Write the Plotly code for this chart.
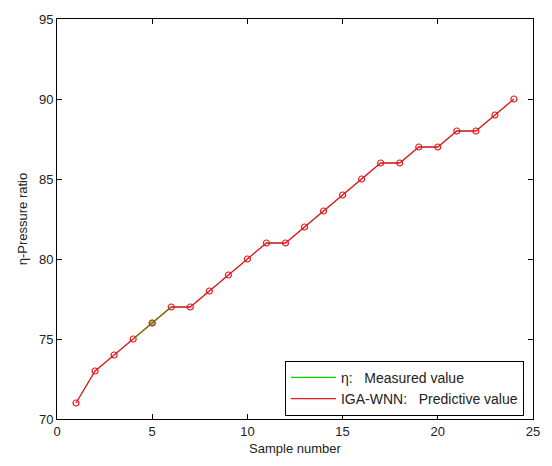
import plotly.graph_objects as go

samples = list(range(1, 25))
predictive = [71, 73, 74, 75, 76, 77, 77, 78, 79, 80, 81, 81, 82, 83, 84, 85, 86, 86, 87, 87, 88, 88, 89, 90]
measured = [71, 73, 74, 75, 76, 77, 77, 78, 79, 80, 81, 81, 82, 83, 84, 85, 86, 86, 87, 87, 88, 88, 89, 90]
x_ticks = [0, 5, 10, 15, 20, 25]
y_ticks = [70, 75, 80, 85, 90, 95]

FONT = "Liberation Sans, Arial, sans-serif"
GREEN = "rgb(0,210,0)"
RED = "rgb(230,25,35)"
fig = go.Figure()

# measured (green) drawn beneath the prediction
fig.add_trace(go.Scatter(
    x=samples, y=measured, mode="lines", showlegend=False,
    line=dict(color=GREEN, width=0.8),
))
fig.add_trace(go.Scatter(
    x=samples, y=predictive, mode="lines+markers", showlegend=False,
    line=dict(color=RED, width=1.3),
    marker=dict(symbol="circle-open", size=6, color=RED, line=dict(width=1.2)),
))
# measured visible around sample 5 (drawn over the prediction)
seg = slice(3, 6)
fig.add_trace(go.Scatter(
    x=samples[seg], y=measured[seg], mode="lines+markers", showlegend=False,
    line=dict(color="rgba(60,170,0,0.7)", width=1.2),
    marker=dict(symbol="circle", size=[0, 6, 0], color="rgba(90,160,20,0.9)",
                line=dict(width=1, color="rgb(200,40,30)")),
))
# legend entries (lines only, as in the reference)
fig.add_trace(go.Scatter(x=[None], y=[None], mode="lines", name="η:   Measured value",
                         line=dict(color=GREEN, width=1.2)))
fig.add_trace(go.Scatter(x=[None], y=[None], mode="lines", name="IGA-WNN:   Predictive value",
                         line=dict(color=RED, width=1.2)))

axis_common = dict(
    showline=True, linecolor="black", linewidth=1, mirror="ticks",
    ticks="inside", ticklen=5, tickcolor="black", tickwidth=1,
    showgrid=False, zeroline=False,
    tickfont=dict(family=FONT, size=13, color="#222"),
)
fig.update_xaxes(range=[0, 25], tickvals=x_ticks, **axis_common,
                 title=dict(text="Sample number", font=dict(family=FONT, size=13, color="#222"), standoff=6))
fig.update_yaxes(range=[70, 95], tickvals=y_ticks, **axis_common,
                 title=dict(text="η-Pressure ratio", font=dict(family=FONT, size=13, color="#222"), standoff=8))

fig.update_layout(
    width=552, height=466,
    margin=dict(l=57, r=13, t=16, b=43),
    paper_bgcolor="white", plot_bgcolor="white",
    font=dict(family=FONT, size=13, color="#222"),
    legend=dict(
        x=0.981, xanchor="right", y=0.008, yanchor="bottom",
        bgcolor="white", bordercolor="black", borderwidth=1,
        font=dict(family=FONT, size=14, color="#222"),
        tracegroupgap=0, itemwidth=45,
    ),
)

fig.write_html("out.html")
